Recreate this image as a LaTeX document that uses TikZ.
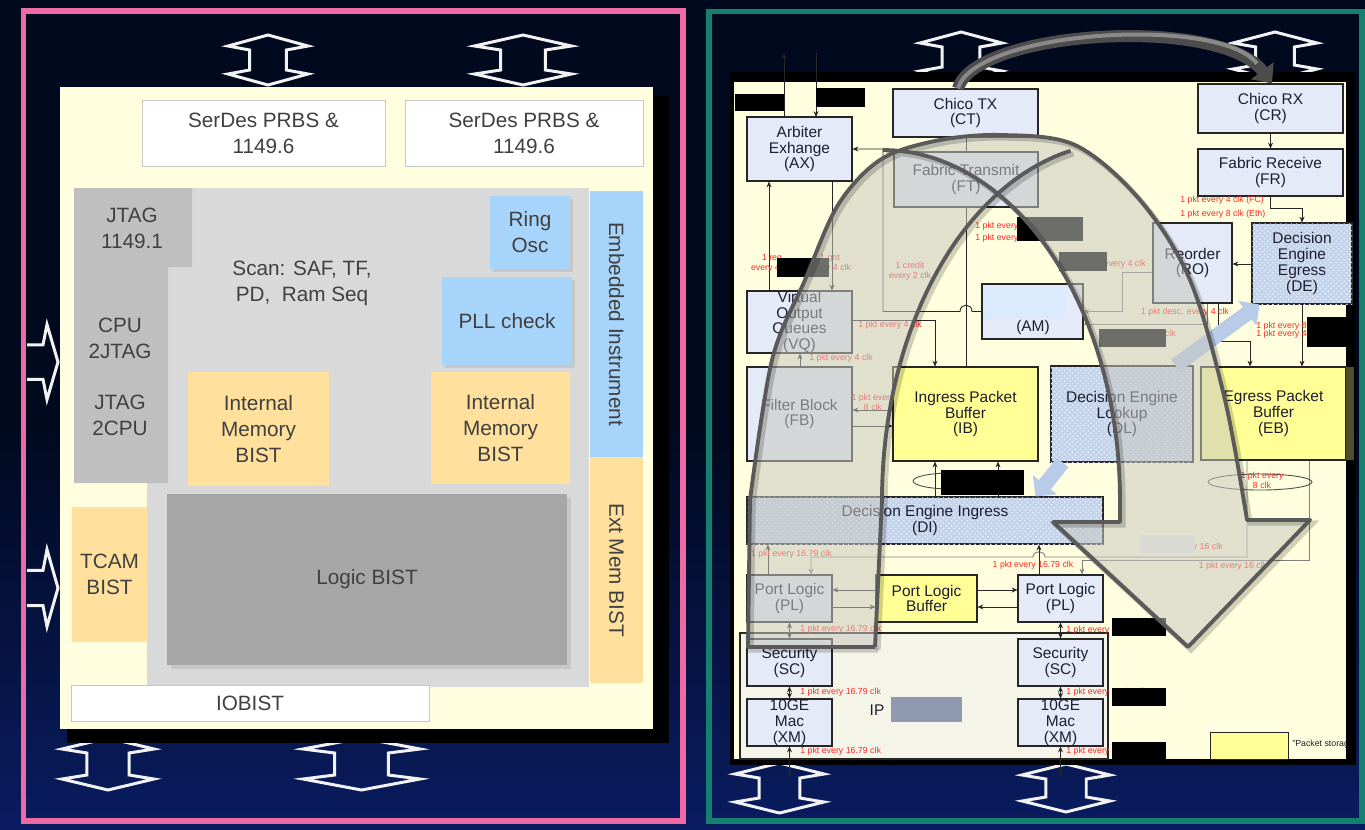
\documentclass[tikz,border=0pt]{standalone}
\usepackage{fontspec}
\setmainfont{Liberation Sans}
\usetikzlibrary{positioning, arrows.meta, calc, patterns, shadows}
\definecolor{bgtop}{RGB}{0,9,30}
\definecolor{bgbot}{RGB}{10,28,96}
\definecolor{framepink}{RGB}{238,106,164}
\definecolor{frameteal}{RGB}{20,128,112}
\definecolor{chipcream}{RGB}{255,254,222}
\definecolor{scangray}{RGB}{217,217,217}
\definecolor{jtaggray}{RGB}{191,191,191}
\definecolor{logicgray}{RGB}{166,166,166}
\definecolor{bistorange}{RGB}{255,224,156}
\definecolor{instblue}{RGB}{166,212,250}
\definecolor{txtgray}{RGB}{64,64,64}
\definecolor{blkfill}{RGB}{228,234,247}
\definecolor{blktext}{RGB}{30,30,50}
\definecolor{bufyellow}{RGB}{255,255,150}
\definecolor{deblue}{RGB}{196,211,236}
\definecolor{fatblue}{RGB}{184,203,232}
\definecolor{ipfill}{RGB}{244,244,232}
\definecolor{notered}{RGB}{255,40,40}
\definecolor{ipgray}{RGB}{143,154,176}
\definecolor{amblue}{RGB}{219,234,252}
\definecolor{ribbonfill}{RGB}{200,200,192}
\definecolor{ribbonline}{RGB}{90,90,90}
\definecolor{hwarrow}{RGB}{242,242,242}

\newcommand{\paneltext}{\fontsize{11.8}{14.8}\selectfont}
\newcommand{\blocktext}{\fontsize{8.8}{9}\selectfont}
\newcommand{\notetext}{\fontsize{5}{5.6}\selectfont}

% hollow double-headed arrow, #1 = width, #2 = length
\tikzset{
  pics/dblarrow/.style 2 args={code={
    \draw[hwline] (0,-#2/2) -- (#1/2,-#2/2+11) -- (0.23*#1,-#2/2+15)
      -- (0.23*#1,#2/2-15) -- (#1/2,#2/2-11) -- (0,#2/2)
      -- (-#1/2,#2/2-11) -- (-0.23*#1,#2/2-15)
      -- (-0.23*#1,-#2/2+15) -- (-#1/2,-#2/2+11) -- cycle;
  }}
}

\begin{document}
\begin{tikzpicture}[
  % pixel grid, y downwards
  x=0.02cm, y=-0.02cm,
  >={Stealth[length=3.3pt, width=2.8pt]},
  bw/.style={minimum width=#1*0.02cm},
  bh/.style={minimum height=#1*0.02cm},
  % left panel boxes
  pbox/.style={inner sep=0pt, align=center, text=txtgray, font=\paneltext},
  plabel/.style={inner sep=0pt, align=center, text=txtgray, font=\paneltext},
  % right panel blocks
  blk/.style={draw=black!85, line width=0.6pt, fill=blkfill, inner sep=0pt,
    align=center, font=\blocktext, text=blktext},
  bufblk/.style={blk, fill=bufyellow},
  deblk/.style={blk, fill=deblue,
    postaction={pattern=crosshatch dots, pattern color=white!70!deblue}},
  note/.style={text=notered, font=\notetext, inner sep=0pt, align=center},
  conn/.style={->, line width=0.5pt, black!85},
  biconn/.style={<->, line width=0.5pt, black!85},
  fat/.style={line width=0.3cm, fatblue, -{Triangle[length=0.3cm, width=0.6cm]}},
  hwline/.style={draw=hwarrow, line width=1.7pt, line join=miter},
  ribbon/.style={draw=ribbonline, line width=2.2pt, line join=round}
]
\useasboundingbox (0,0) rectangle (1365,829);

% ── Background and panel frames ─────────────────────────────────────
\fill[bgtop] (0,0) rectangle (1365,829);
\shade[top color=bgtop, bottom color=bgbot] (0,420) rectangle (1365,829);
\draw[framepink, line width=3.4pt] (23.5,11) rectangle (683,821);
\draw[frameteal, line width=3.4pt] (709,11.5) rectangle (1362,820.5);

% ── Left panel: I/O arrows ─────────────────────────────────────────
\pic (arrTA) at (268,60) {dblarrow={80}{50}};
\pic (arrTB) at (523,60) {dblarrow={97}{50}};
\pic (arrBA) at (108,764) {dblarrow={92}{52}};
\pic (arrBB) at (361.5,764) {dblarrow={117}{52}};
\begin{scope}
  \clip (27,15) rectangle (680,818);
  \pic[rotate=90] (arrLA) at (34,362) {dblarrow={75}{48}};
  \pic[rotate=90] (arrLB) at (34,588) {dblarrow={77}{48}};
\end{scope}

% ── Left panel: chip ───────────────────────────────────────────────
\fill[black] (67,96) rectangle (669,743);
\fill[chipcream] (60,87) rectangle (653,729);

\node[pbox, fill=white, draw=gray!45, bw=243, bh=66] (serdesA) at (263.5,133) {SerDes PRBS \&\\1149.6};
\node[pbox, fill=white, draw=gray!45, bw=238, bh=66] (serdesB) at (524,133) {SerDes PRBS \&\\1149.6};

\fill[scangray] (147,188) rectangle (589,687);
\fill[jtaggray] (74,188) -- (192,188) -- (192,267) -- (168,267) -- (168,483) -- (74,483) -- cycle;
\node[plabel] (jtagA) at (132,228) {JTAG\\1149.1};
\node[plabel] (cpujtag) at (120,338) {CPU\\2JTAG};
\node[plabel] (jtagcpu) at (120,415) {JTAG\\2CPU};
\node[plabel] (scan) at (302,283) {Scan: SAF, TF,\\PD,\ \ Ram Seq};

\node[pbox, fill=instblue, bw=80, bh=73,
      drop shadow={opacity=0.2, shadow xshift=1.5pt, shadow yshift=-1.5pt}] (ringosc) at (530,232.5) {Ring\\Osc};
\node[pbox, fill=instblue, bw=130, bh=88,
      drop shadow={opacity=0.2, shadow xshift=1.5pt, shadow yshift=-1.5pt}] (pllchk) at (507,321) {PLL check};
\node[pbox, fill=instblue, bw=53, bh=266] (embinst) at (616.5,324) {};
\node[plabel, rotate=-90] (embinstlbl) at (embinst) {Embedded Instrument};
\node[pbox, fill=bistorange, bw=53, bh=226] (extmem) at (616.5,570) {};
\node[plabel, rotate=-90] (extmemlbl) at (extmem) {Ext Mem BIST};

\node[pbox, fill=bistorange, bw=141, bh=114] (imemA) at (258.5,429) {Internal\\Memory\\BIST};
\node[pbox, fill=bistorange, bw=139, bh=112] (imemB) at (500.5,428) {Internal\\Memory\\BIST};
\node[pbox, fill=logicgray, bw=400, bh=171,
      drop shadow={opacity=0.2, shadow xshift=2pt, shadow yshift=-2pt}] (logicbist) at (367,579.5) {Logic BIST};
\node[pbox, fill=bistorange, bw=75, bh=135] (tcam) at (109.5,574.5) {TCAM\\BIST};
\node[pbox, fill=white, draw=gray!45, bw=358, bh=36] (iobist) at (250,703) {IOBIST};

% ── Right panel: I/O arrows ────────────────────────────────────────
\pic (arrCT) at (961,57) {dblarrow={82}{50}};
\pic (arrCR) at (1275,56) {dblarrow={84}{48}};
\pic (arrXA) at (779.5,788) {dblarrow={89}{50}};
\pic (arrXB) at (1066,788) {dblarrow={88}{48}};

% ── Right panel: chip ──────────────────────────────────────────────
\fill[black] (730,72) rectangle (1356,765);
\fill[chipcream] (734,82) rectangle (1346,759);

\coordinate (axout) at (784,53);
\coordinate (axin) at (816,53);
\coordinate (xmAout) at (789.5,777);
\coordinate (xmBout) at (1060.5,777);

% connectors drawn first, blocks on top
\draw[conn] (784,117) -- (axout);
\draw[conn] (axin) -- (816,117);
\draw[black!85, line width=0.5pt] (966,137) -- (966,367);

% ─── Blocks ────────────────────────────────────────────────────────
\node[blk, bw=105, bh=64] (AX) at (799.5,149) {Arbiter\\Exhange\\(AX)};
\node[blk, bw=145, bh=48] (CT) at (965.5,113) {Chico TX\\(CT)};
\node[blk, bw=144, bh=55] (FT) at (966,179.5) {Fabric Transmit\\(FT)};
\node[blk, bw=145, bh=49] (CR) at (1270.5,108.5) {Chico RX\\(CR)};
\node[blk, bw=145, bh=47] (FR) at (1270.5,172.5) {Fabric Receive\\(FR)};
\node[blk, bw=79, bh=80] (RO) at (1192.5,263) {Reorder\\(RO)};
\node[deblk, bw=100, bh=81] (DE) at (1302,263.5) {Decision\\Engine\\Egress\\(DE)};
\node[blk, bw=101, bh=55] (AM) at (1032.5,311.5) {};
\fill[amblue] (983,287) rectangle (1065,318);
\node[font=\blocktext, text=blktext, inner sep=0pt] (amlbl) at (1033,327) {(AM)};
\node[blk, bw=105, bh=62] (VQ) at (799.5,322) {Virtual\\Output\\Queues\\(VQ)};
\node[blk, bw=105, bh=94] (FB) at (799.5,414) {Filter Block\\(FB)};
\node[bufblk, bw=145, bh=94] (IB) at (965.5,414) {Ingress Packet\\Buffer\\(IB)};
\node[deblk, bw=142, bh=96] (DL) at (1122,414) {Decision Engine\\Lookup\\(DL)};
\node[bufblk, bw=145, bh=93] (EB) at (1273.5,413.5) {Egress Packet\\Buffer\\(EB)};
\fill[olive!45!black] (1346,367) rectangle (1354,460);
\node[deblk, bw=356, bh=47] (DI) at (925,520.5) {Decision Engine Ingress\\(DI)};
\node[blk, bw=85, bh=47] (plA) at (789.5,598.5) {Port Logic\\(PL)};
\node[bufblk, bw=101, bh=47] (PLB) at (926.5,598.5) {Port Logic\\Buffer};
\node[blk, bw=85, bh=47] (plB) at (1060.5,598.5) {Port Logic\\(PL)};
\node[draw=black!85, line width=0.6pt, fill=ipfill, inner sep=0pt, bw=368, bh=126] (ipgrp) at (924,696) {};
\node[blk, bw=85, bh=47] (scA) at (789.5,662.5) {Security\\(SC)};
\node[blk, bw=85, bh=47] (xmA) at (789.5,722.5) {10GE\\Mac\\(XM)};
\node[blk, bw=85, bh=47] (scB) at (1060.5,662.5) {Security\\(SC)};
\node[blk, bw=85, bh=47] (xmB) at (1060.5,722.5) {10GE\\Mac\\(XM)};
\node[font=\blocktext, text=blktext, inner sep=0pt] (iplbl) at (877,710) {IP};
\node[fill=ipgray, inner sep=0pt, bw=71, bh=25] (ipbox) at (926.5,709.5) {};
\node[draw=black!85, line width=0.5pt, fill=bufyellow, inner sep=0pt, bw=78, bh=27] (storebox) at (1249,745.5) {};

% ─── Connectors ────────────────────────────────────────────────────
\draw[conn] (AX.south -| 832,0) -- (VQ.north -| 832,0);
\draw[conn] (VQ.north -| 769,0) -- (AX.south -| 769,0);
\draw[conn] (AM.west) -- (972,311.5) .. controls (972,303) and (960,303) .. (960,311.5)
  -- (883,311.5) |- (AX.east);
\draw[conn] (VQ.east |- 0,320) -| (IB.north -| 935,0);
\draw[conn] (FB.north -| 800,0) -- (VQ.south -| 800,0);
\draw[conn] (IB.west |- 0,410) -- (FB.east |- 0,410);
\draw[conn] (FB.east |- 0,426) -- (IB.west |- 0,426);
\draw[conn] (CR) -- (FR);
\draw[conn] (FR.south) -- ++(0,12) -| (DE.north);
\draw[conn] (DE.west |- 0,264) -- (RO.east |- 0,264);
\draw[conn, gray] (RO.west |- 0,272) -| (1122,311.5) -- (AM.east);
\draw[conn, gray] (RO.south -| 1207,0) |- (AM.east |- 0,324);
\draw[conn] (RO.south -| 1218,0) |- (1250,341) -- (EB.north -| 1250,0);
\draw[conn] (DE.south) -- (EB.north -| DE.south);
\draw[conn] (DI.north -| 935,0) -- (IB.south -| 935,0);
\draw[conn] (DI.north -| 998,0) -- (IB.south -| 998,0);
\draw[conn] (plA.north -| 768,0) -- (DI.south -| 768,0);
\draw[conn, gray] (EB.south -| 1247,0) -- (1247,557) -- (1045,557)
  .. controls (1045,550) and (1033,550) .. (1033,557) -- (811,557) -- (plA.north -| 811,0);
\draw[conn, gray] (EB.south -| 1309,0) |- (1082,560) -- (plB.north -| 1082,0);
\draw[conn] (plB.north -| 1039,0) -- (DI.south -| 1039,0);
\draw[conn] (PLB.east |- 0,590) -- (plB.west |- 0,590);
\draw[conn] (plB.west |- 0,607) -- (PLB.east |- 0,607);
\draw[conn] (PLB.west |- 0,590) -- (plA.east |- 0,590);
\draw[conn] (plA.east |- 0,607) -- (PLB.west |- 0,607);
\draw[biconn] (plA.south) -- (scA.north);
\draw[biconn] (scA.south) -- (xmA.north);
\draw[biconn] (xmA.south) -- (xmAout);
\draw[biconn] (plB.south) -- (scB.north);
\draw[biconn] (scB.south) -- (xmB.north);
\draw[biconn] (xmB.south) -- (xmBout);
\draw[black!70, line width=0.5pt] (951,481) ellipse [x radius=0.76cm, y radius=0.16cm];
\draw[black!70, line width=0.5pt] (1260,482) ellipse [x radius=1.04cm, y radius=0.16cm];
\draw[fat] ($(DL.north east)+(-18,0)$) -- ($(DE.south west)+(8,0)$);
\draw[fat] ($(DL.south west)+(12,0)$) -- ($(DI.north east)+(-68,0)$);

% ─── Rate notes ────────────────────────────────────────────────────
\node[note] (nreq) at (772,263) {1 req\\every 4 clk};
\node[note] (ngnt) at (830,263) {1 gnt\\every 4 clk};
\node[note] (ncred) at (910,271) {1 credit\\every 2 clk};
\node[note] (nvq) at (890,325) {1 pkt every 4 clk};
\node[note] (nfb) at (841,358) {1 pkt every 4 clk};
\node[note] (nib) at (873,402) {1 pkt every\\8 clk};
\node[note, anchor=west, align=left] (nct) at (975,232) {1 pkt every 8 clk\\[1.2pt]1 pkt every 4 clk};
\node[note, anchor=east] (nro) at (1146,264) {1 pkt every 4 clk};
\node[note] (ndesc) at (1185,312) {1 pkt desc. every 4 clk};
\node[note, anchor=east] (nam) at (1176,334) {1 pkt every 4 clk};
\node[note, anchor=west, align=left] (nde) at (1256,330) {1 pkt every 8 clk\\[-1.1pt]1 pkt every 4 clk};
\node[note, anchor=west] (nfc) at (1180,200) {1 pkt every 4 clk (FC)};
\node[note, anchor=west] (neth) at (1180,214) {1 pkt every 8 clk (Eth)};
\node[note] (neb) at (1262,480) {1 pkt every\\8 clk};
\node[note, anchor=east] (npla) at (832,554) {1 pkt every 16.79 clk};
\node[note] (nplb) at (1033,565) {1 pkt every 16.79 clk};
\node[note, anchor=east] (nebA) at (1223,547) {1 pkt every 16 clk};
\node[note] (nebB) at (1233,566) {1 pkt every 16 clk};
\node[note, anchor=west] (nscA) at (800,629) {1 pkt every 16.79 clk};
\node[note, anchor=west] (nxmA) at (800,692) {1 pkt every 16.79 clk};
\node[note, anchor=west] (noutA) at (800,751) {1 pkt every 16.79 clk};
\node[note, anchor=west] (nscB) at (1066,630) {1 pkt every 16.79 clk};
\node[note, anchor=west] (nxmB) at (1066,692) {1 pkt every 16.79 clk};
\node[note, anchor=west] (noutB) at (1066,751) {1 pkt every 16.79 clk};
\begin{scope}
  \clip (734,82) rectangle (1346,759);
  \node[font=\notetext, text=blktext, anchor=west, inner sep=0pt] (nstore) at (1292,744) {\symbol{34}Packet storage};
\end{scope}

% ─── Redactions ────────────────────────────────────────────────────
\fill[black] (735,94) rectangle (784,111);
\fill[black] (816,88) rectangle (865,107);
\fill[black] (777,258) rectangle (829,277);
\fill[black] (1017,217) rectangle (1083,241);
\fill[black] (1059,252) rectangle (1107,271);
\fill[black] (1099,329) rectangle (1166,347);
\fill[black] (1307,317) rectangle (1350,347);
\fill[black] (941,470) rectangle (1024,495);
\fill[white!94!black] (1140,535) rectangle (1195,553);
\fill[black] (1112,618) rectangle (1166,636);
\fill[black] (1112,688) rectangle (1166,706);
\fill[black] (1112,742) rectangle (1166,759);

% ── Translucent U-turn ribbon ──────────────────────────────────────
\fill[ribbonfill, fill opacity=0.55]
  (748,647) -- plot[smooth, tension=0.55] coordinates {(750,500) (772,360) (805,280) (838,205)
    (880,160) (935,141) (1000,135) (1075,145) (1140,200) (1190,280) (1225,400) (1247,520)}
  -- (1310,520) -- (1188,647) -- (1053,522) -- (1120,522) -- (1120,500) -- (882,500) -- (875,647) -- cycle
  (882,500) -- (1120,500)
  -- plot[domain=0:90, samples=40] ({883+237*cos(\x)},{500-350*sin(\x)})
  -- plot[domain=102:180, samples=40] ({1120+238*cos(\x)},{500-357*sin(\x)}) -- cycle;
\begin{scope}[shift={(3,3)}, draw=black, draw opacity=0.18, line width=3pt]
  \draw (875,647) -- (748,647) -- plot[smooth, tension=0.55] coordinates {(750,500) (772,360) (805,280) (838,205)
    (880,160) (935,141) (1000,135) (1075,145) (1140,200) (1190,280) (1225,400) (1247,520)}
    -- (1310,520) -- (1188,647) -- (1053,522) -- (1120,522)
    -- plot[domain=0:90, samples=40] ({883+237*cos(\x)},{500-350*sin(\x)});
  \draw (875,647) -- plot[domain=180:102, samples=40] ({1120+238*cos(\x)},{500-357*sin(\x)});
\end{scope}
\draw[ribbon] (875,647) -- (748,647) -- plot[smooth, tension=0.55] coordinates {(750,500) (772,360) (805,280) (838,205)
    (880,160) (935,141) (1000,135) (1075,145) (1140,200) (1190,280) (1225,400) (1247,520)}
  -- (1310,520) -- (1188,647) -- (1053,522) -- (1120,522)
  -- plot[domain=0:90, samples=40] ({883+237*cos(\x)},{500-350*sin(\x)});
\draw[ribbon] (875,647) -- plot[domain=180:102, samples=40] ({1120+238*cos(\x)},{500-357*sin(\x)});

% ── Gray arc CT -> CR ──────────────────────────────────────────────
\draw[line width=0.24cm, gray!60!black, -{Triangle[length=0.32cm, width=0.55cm]}]
  (CT.north -| 958,0) .. controls (975,30) and (1220,15) .. (CR.north -| 1272,0);
\draw[line width=0.08cm, white, opacity=0.35, shorten >=0.5cm]
  (CT.north -| 958,0) .. controls (975,30) and (1220,15) .. (CR.north -| 1272,0);

\end{tikzpicture}
\end{document}
